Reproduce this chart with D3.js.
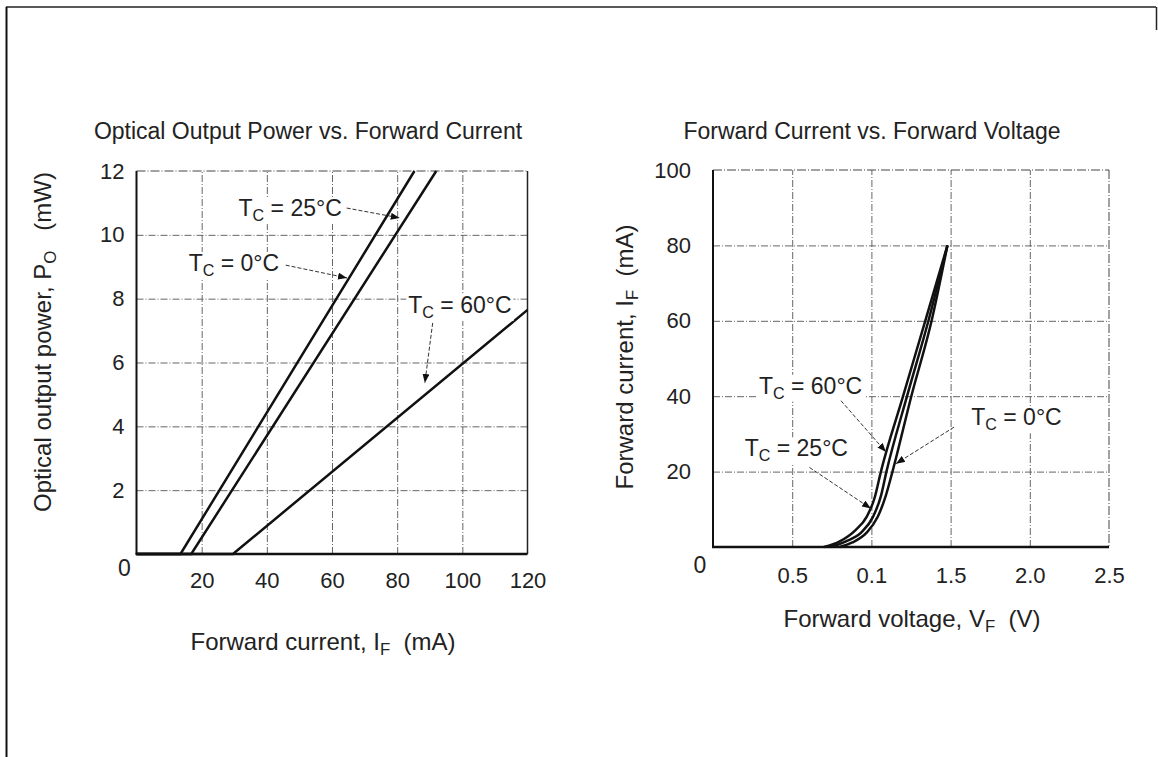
<!DOCTYPE html>
<html>
<head>
<meta charset="utf-8">
<script src="https://cdn.jsdelivr.net/npm/d3@7"></script>
<style>
body { margin: 0; background: #fff; }
svg { display: block; font-family: "Liberation Sans", Arial, Helvetica, sans-serif; }
.grid line { stroke: #666; stroke-width: 1; stroke-dasharray: 7,2,1,2; }
.grid path { display: none; }
.ticks path, .ticks line { display: none; }
.ticks text { fill: #222; font-size: 22px; font-family: "Liberation Sans", Arial, sans-serif; }
.curve { fill: none; stroke: #111; stroke-width: 2.5; }
.arrow { stroke: #333; stroke-width: 1; stroke-dasharray: 4,2; fill: none; }
.lbl { fill: #222; font-size: 23px; }
.axt { fill: #222; font-size: 24px; }
</style>
</head>
<body>
<script>
// ---- left chart: optical output power vs forward current ----
var currentTicks = [20, 40, 60, 80, 100, 120];
var powerTicks = [2, 4, 6, 8, 10, 12];
var powerTc0 = [[0, 0], [13.5, 0], [85.3, 12]];
var powerTc25 = [[0, 0], [16.8, 0], [92, 12]];
var powerTc60 = [[0, 0], [29.6, 0], [120, 7.65]];
// label anchor (x,y) and arrow from/to, in data units
var powerLabels = [
  {tc: "25", x: 31.3, y: 10.84, a: [64.5, 10.84, 80.8, 10.53]},
  {tc: "0",  x: 16.0, y: 9.12,  a: [45.8, 9.05, 64.6, 8.65]},
  {tc: "60", x: 83.4, y: 7.8,   a: [90.9, 7.24, 88.5, 5.36]}
];

// ---- right chart: forward current vs forward voltage ----
var voltTicks = [0.5, 1.0, 1.5, 2.0, 2.5];
var voltTickLabels = ["0.5", "0.1", "1.5", "2.0", "2.5"];
var ifTicks = [20, 40, 60, 80, 100];
var ivTc60 = [[0.70, 0], [0.80, 1.5], [0.90, 4.5], [0.97, 8], [1.02, 13], [1.06, 20], [1.20, 40], [1.34, 60], [1.48, 80]];
var ivTc25 = [[0.74, 0], [0.84, 1.5], [0.94, 4], [1.01, 8], [1.06, 13.5], [1.095, 20], [1.225, 40], [1.36, 60], [1.48, 80]];
var ivTc0 = [[0.80, 0], [0.88, 1.2], [0.97, 3.8], [1.04, 8], [1.09, 13.5], [1.133, 20], [1.252, 40], [1.38, 60], [1.48, 80]];
var ivLabels = [
  {tc: "60", x: 0.29,  y: 42.8, a: [0.808, 38.8, 1.092, 25.2]},
  {tc: "25", x: 0.20,  y: 26.2, a: [0.609, 21.1, 0.997, 10.2]},
  {tc: "0",  x: 1.63,  y: 34.4, a: [1.522, 31.8, 1.155, 22.1]}
];

var W = 1158, H = 757;
var svg = d3.select("body").append("svg").attr("width", W).attr("height", H);

svg.append("defs").append("marker")
    .attr("id", "head")
    .attr("viewBox", "0 0 9 7")
    .attr("refX", 9).attr("refY", 3.5)
    .attr("markerWidth", 9).attr("markerHeight", 7)
    .attr("markerUnits", "userSpaceOnUse")
    .attr("orient", "auto")
  .append("path").attr("d", "M0,0L9,3.5L0,7z").attr("fill", "#111");

// page border (left + top, short piece on the right)
svg.append("line").attr("x1", 6).attr("y1", 7).attr("x2", 1156).attr("y2", 7).attr("stroke", "#222").attr("stroke-width", 1.5);
svg.append("line").attr("x1", 6.5).attr("y1", 7).attr("x2", 6.5).attr("y2", H).attr("stroke", "#111").attr("stroke-width", 2);
svg.append("line").attr("x1", 1156.5).attr("y1", 7).attr("x2", 1156.5).attr("y2", 30).attr("stroke", "#222").attr("stroke-width", 1.5);

function subText(sel, parts) {
  // parts: [[text, isSub], ...]
  var shifted = false;
  parts.forEach(function (p) {
    var t = sel.append("tspan").text(p[0]);
    if (p[1]) { t.attr("font-size", "0.7em").attr("dy", 5); shifted = true; }
    else if (shifted) { t.attr("dy", -5); shifted = false; }
  });
}

function drawPanel(o) {
  var x = o.x, y = o.y;
  var g = svg.append("g");
  var x0 = x.range()[0], x1 = x.range()[1], y0 = y.range()[0], y1 = y.range()[1];

  // grid
  g.append("g").attr("class", "grid").attr("transform", "translate(0," + y0 + ")")
    .call(d3.axisBottom(x).tickValues(o.xTicks.slice(0, -1)).tickSize(y1 - y0).tickFormat(""));
  g.append("g").attr("class", "grid").attr("transform", "translate(" + x0 + ",0)")
    .call(d3.axisLeft(y).tickValues(o.yTicks.slice(0, -1)).tickSize(x0 - x1).tickFormat(""));

  // frame: dashed top/right, solid left/bottom
  g.append("line").attr("x1", x0).attr("x2", x1).attr("y1", y1).attr("y2", y1)
    .attr("stroke", "#444").attr("stroke-dasharray", "9,2,1,2");
  g.append("line").attr("x1", x1).attr("x2", x1).attr("y1", y1).attr("y2", y0)
    .attr("stroke", o.rightSolid ? "#222" : "#444").attr("stroke-width", o.rightSolid ? 1.5 : 1)
    .attr("stroke-dasharray", o.rightSolid ? null : "9,2,1,2");
  g.append("line").attr("x1", x0).attr("x2", x0).attr("y1", y1).attr("y2", y0)
    .attr("stroke", "#111").attr("stroke-width", 2);
  g.append("line").attr("x1", x0 - 1).attr("x2", x1).attr("y1", y0).attr("y2", y0)
    .attr("stroke", "#111").attr("stroke-width", 2.5);

  // tick labels
  g.append("g").attr("class", "ticks").attr("transform", "translate(0," + y0 + ")")
    .call(d3.axisBottom(x).tickValues(o.xTicks).tickSize(0).tickPadding(o.xPad)
      .tickFormat(function (d, i) { return o.xLabels ? o.xLabels[i] : d; }));
  g.append("g").attr("class", "ticks").attr("transform", "translate(" + x0 + ",0)")
    .call(d3.axisLeft(y).tickValues(o.yTicks).tickSize(0).tickPadding(o.yPad));
  g.append("text").attr("class", "lbl").attr("font-size", 22)
    .attr("x", x0 - o.zero[0]).attr("y", y0 + o.zero[1]).attr("text-anchor", "middle").text("0");

  // curves
  var line = d3.line().x(function (d) { return x(d[0]); }).y(function (d) { return y(d[1]); })
    .curve(o.curve);
  o.series.forEach(function (s) {
    g.append("path").attr("class", "curve").attr("d", line(s)).attr("stroke-width", o.sw);
  });

  // labels with white background and dashed arrows
  o.labels.forEach(function (l) {
    var t = g.append("text").attr("class", "lbl")
      .attr("x", x(l.x)).attr("y", y(l.y)).attr("dy", "0.35em");
    subText(t, [["T", false], ["C", true], [" = " + l.tc + "°C", false]]);
    var b = t.node().getBBox();
    g.insert("rect", function () { return t.node(); })
      .attr("x", b.x - 2).attr("y", b.y + 2).attr("width", b.width + 4).attr("height", b.height - 2)
      .attr("fill", "#fff");
    g.append("line").attr("class", "arrow")
      .attr("x1", x(l.a[0])).attr("y1", y(l.a[1]))
      .attr("x2", x(l.a[2])).attr("y2", y(l.a[3]))
      .attr("marker-end", "url(#head)");
  });

  // titles
  svg.append("text").attr("class", "lbl").attr("text-anchor", "middle")
    .attr("x", o.title[1]).attr("y", o.title[2]).text(o.title[0]);
  var xl = svg.append("text").attr("class", "axt").attr("text-anchor", "middle")
    .attr("x", o.xTitle[0]).attr("y", o.xTitle[1]);
  subText(xl, o.xTitle[2]);
  var yl = svg.append("text").attr("class", "axt").attr("text-anchor", "middle")
    .attr("transform", "translate(" + o.yTitle[0] + "," + o.yTitle[1] + ") rotate(-90)");
  subText(yl, o.yTitle[2]);
}

drawPanel({
  x: d3.scaleLinear().domain([0, 120]).range([136.5, 527.5]),
  y: d3.scaleLinear().domain([0, 12]).range([554, 171]),
  xTicks: currentTicks, yTicks: powerTicks, xPad: 18, yPad: 12, zero: [12, 22],
  rightSolid: true, sw: 2.6, curve: d3.curveLinear,
  series: [powerTc0, powerTc25, powerTc60],
  labels: powerLabels,
  title: ["Optical Output Power vs. Forward Current", 308, 139],
  xTitle: [323, 650, [["Forward current, I", false], ["F", true], ["\u00a0\u00a0(mA)", false]]],
  yTitle: [51, 342, [["Optical output power, P", false], ["O", true], ["\u00a0\u00a0\u00a0(mW)", false]]]
});

drawPanel({
  x: d3.scaleLinear().domain([0, 2.5]).range([713, 1109]),
  y: d3.scaleLinear().domain([0, 100]).range([547, 170]),
  xTicks: voltTicks, xLabels: voltTickLabels, yTicks: ifTicks, xPad: 20, yPad: 22, zero: [13, 26],
  rightSolid: false, sw: 2.2, curve: d3.curveMonotoneX,
  series: [ivTc60, ivTc25, ivTc0],
  labels: ivLabels,
  title: ["Forward Current vs. Forward Voltage", 872, 139],
  xTitle: [912, 627, [["Forward voltage, V", false], ["F", true], ["\u00a0\u00a0(V)", false]]],
  yTitle: [633, 357, [["Forward current, I", false], ["F", true], ["\u00a0\u00a0(mA)", false]]]
});
</script>
</body>
</html>
